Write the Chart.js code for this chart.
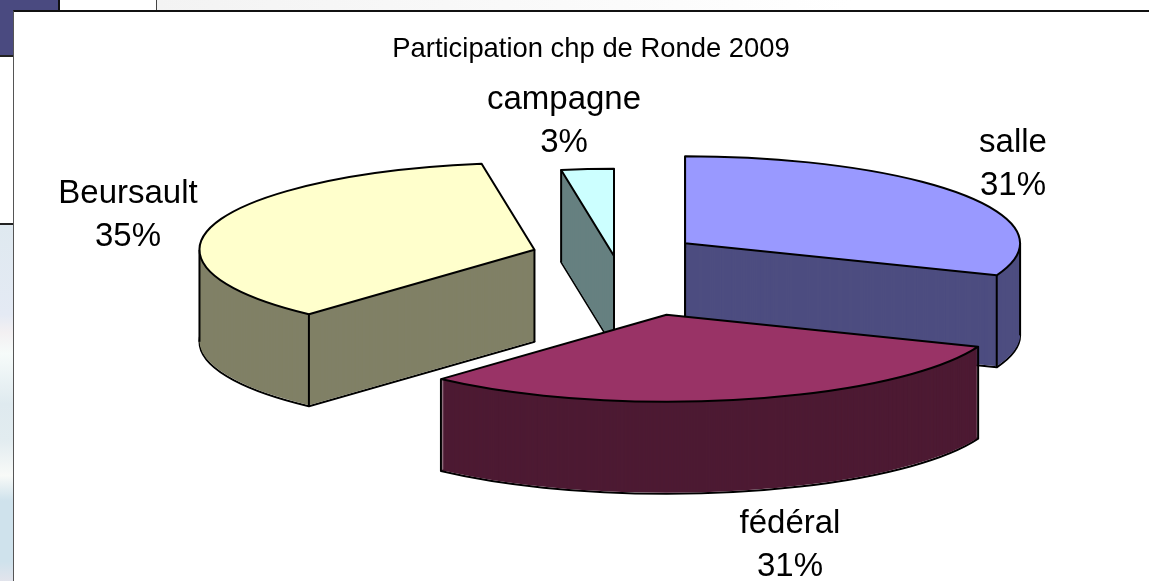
<!DOCTYPE html>
<html>
<head>
<meta charset="utf-8">
<title>Participation chp de Ronde 2009</title>
<script src="https://cdn.jsdelivr.net/npm/chart.js@4"></script>
<style>
  html, body { margin: 0; padding: 0; width: 1149px; height: 581px; overflow: hidden; background: #fff; }
  .back { position: absolute; }
  #blue-corner { left: 0; top: 0; width: 58px; height: 10px; background: #4a4a80; }
  #blue-side { left: 0; top: 0; width: 13px; height: 55px; background: #4a4a80; border-bottom: 2px solid #222; }
  #tab { left: 58px; top: 0; width: 96px; height: 10px; background: #fff; border-left: 2px solid #111; border-right: 2px solid #444; }
  #band { left: 157px; top: 0; width: 992px; height: 10px; background: linear-gradient(90deg, #f3f3f3, #fff 70%); }
  #strip { left: 0; top: 223px; width: 13px; height: 358px; border-top: 2px solid #222;
    background: linear-gradient(180deg, #dfe9f0 0%, #e4eaf4 25%, #f3f0f2 30%, #f6fbfa 36%, #dfeaef 50%, #e2ecf0 60%, #f8faf8 70%, #cfe2ec 77%, #cfe2ec 94%, #e4e4ec 100%); }
  #frame { left: 13px; top: 10px; width: 1136px; height: 571px; border-left: 1px solid #555; border-top: 2px solid #111; background: #fff; }
  #chart { position: absolute; left: 14px; top: 12px; }
</style>
</head>
<body>
<div class="back" id="blue-corner"></div>
<div class="back" id="blue-side"></div>
<div class="back" id="tab"></div>
<div class="back" id="band"></div>
<div class="back" id="strip"></div>
<div class="back" id="frame"></div>
<canvas id="chart" width="1154" height="569"></canvas>
<script>
const categories = ['salle', 'fédéral', 'Beursault', 'campagne'];
const shares = [30.7, 30.5, 35.4, 2.5];
const topColours = ['#9999ff', '#993366', '#ffffcc', '#ccffff'];
const wallColours = ['#4d4d80', '#4d1a33', '#808066', '#668080'];
const chartTitle = 'Participation chp de Ronde 2009';

// baseline of the first line of each label, on the canvas
const labelAnchors = [
  { x: 999, y: 140 },
  { x: 776, y: 521 },
  { x: 114, y: 191 },
  { x: 550, y: 97 },
];

const tilt = { ratio: 0.26, depth: 92, shiftX: 23 };

// Chart.js only knows flat pies, so the arcs get squashed and stacked here
const tiltedPie = {
  id: 'tiltedPie',
  beforeDatasetDraw(chart, args) {
    const { ctx } = chart;
    const arcs = args.meta.data.map((arc, index) => {
      const mid = (arc.startAngle + arc.endAngle) / 2;
      const offset = arc.options.offset || 0;
      return {
        arc,
        index,
        cx: arc.x + tilt.shiftX + Math.cos(mid) * offset,
        cy: arc.y + Math.sin(mid) * offset * tilt.ratio,
      };
    });

    const paintFace = (item, drop, colour) => {
      const flat = Object.create(item.arc);
      flat.options = { ...item.arc.options, offset: 0, borderWidth: 0, backgroundColor: colour };
      ctx.save();
      ctx.translate(item.cx, item.cy + drop);
      ctx.scale(1, tilt.ratio);
      ctx.translate(-item.arc.x, -item.arc.y);
      flat.draw(ctx);
      ctx.restore();
    };

    const traceOutline = (item, drop) => {
      const { startAngle, endAngle, outerRadius } = item.arc;
      ctx.beginPath();
      ctx.moveTo(item.cx, item.cy + drop);
      ctx.ellipse(item.cx, item.cy + drop, outerRadius, outerRadius * tilt.ratio, 0, startAngle, endAngle);
      ctx.closePath();
    };

    const drawEdge = (x, y) => {
      ctx.beginPath();
      ctx.moveTo(x, y);
      ctx.lineTo(x, y + tilt.depth);
      ctx.stroke();
    };

    ctx.save();
    ctx.lineWidth = 2;
    ctx.lineJoin = 'round';
    ctx.strokeStyle = '#000';

    arcs.sort((a, b) => a.cy - b.cy).forEach((item) => {
      const { startAngle, endAngle, outerRadius } = item.arc;
      const onArc = (angle) => {
        const turned = angle + Math.PI * 2 * Math.ceil((startAngle - angle) / (Math.PI * 2));
        return turned <= endAngle;
      };

      traceOutline(item, tilt.depth);
      ctx.stroke();
      for (let drop = tilt.depth - 1; drop > 0; drop -= 1) {
        paintFace(item, drop, wallColours[item.index]);
      }

      // upright edges, the top face hides the ones at the back
      [startAngle, endAngle].forEach((angle) => {
        drawEdge(item.cx + Math.cos(angle) * outerRadius, item.cy + Math.sin(angle) * outerRadius * tilt.ratio);
      });
      if (onArc(0)) drawEdge(item.cx + outerRadius, item.cy);
      if (onArc(Math.PI)) drawEdge(item.cx - outerRadius, item.cy);
      if (!onArc(Math.PI / 2)) drawEdge(item.cx, item.cy);

      paintFace(item, 0, topColours[item.index]);
      traceOutline(item, 0);
      ctx.stroke();
    });
    ctx.restore();
    return false;
  },
  afterDraw(chart) {
    const { ctx } = chart;
    ctx.save();
    ctx.font = '33px "Liberation Sans", Arial, sans-serif';
    ctx.fillStyle = '#000';
    ctx.textAlign = 'center';
    ctx.textBaseline = 'alphabetic';
    categories.forEach((name, i) => {
      ctx.fillText(name, labelAnchors[i].x, labelAnchors[i].y);
      ctx.fillText(`${Math.round(shares[i])}%`, labelAnchors[i].x, labelAnchors[i].y + 43);
    });
    ctx.restore();
  },
};

new Chart(document.getElementById('chart'), {
  type: 'pie',
  data: {
    labels: categories,
    datasets: [
      {
        data: shares,
        backgroundColor: topColours,
        offset: [86, 232, 83, 0],
        radius: 335,
        clip: false,
      },
    ],
  },
  options: {
    responsive: false,
    animation: false,
    events: [],
    layout: { padding: { bottom: 145 } },
    plugins: {
      legend: { display: false },
      tooltip: { enabled: false },
      title: {
        display: true,
        text: chartTitle,
        color: '#000',
        font: { family: '"Liberation Sans", Arial, sans-serif', size: 27.4, weight: 'normal' },
        padding: { top: 21, bottom: 10 },
      },
    },
  },
  plugins: [tiltedPie],
});
</script>
</body>
</html>
